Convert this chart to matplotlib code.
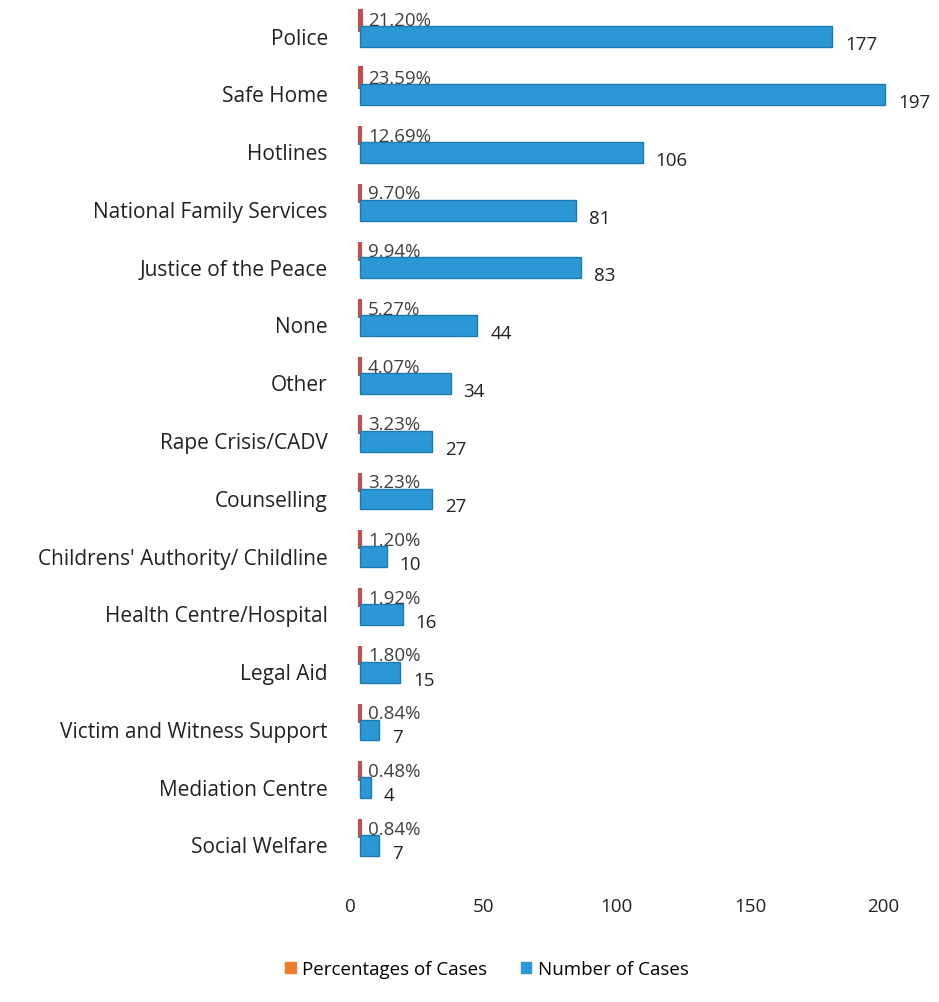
import matplotlib.pyplot as plt
import matplotlib.transforms as mtransforms
from matplotlib.patches import Patch
import numpy as np

categories = ['Police', 'Safe Home', 'Hotlines', 'National Family Services',
              'Justice of the Peace', 'None', 'Other', 'Rape Crisis/CADV',
              'Counselling', "Childrens' Authority/ Childline",
              'Health Centre/Hospital', 'Legal Aid', 'Victim and Witness Support',
              'Mediation Centre', 'Social Welfare']
numCases = [177, 197, 106, 81, 83, 44, 34, 27, 27, 10, 16, 15, 7, 4, 7]
pctCases = [21.20, 23.59, 12.69, 9.70, 9.94, 5.27, 4.07, 3.23, 3.23,
            1.20, 1.92, 1.80, 0.84, 0.48, 0.84]
pctLabels = ['21.20%', '23.59%', '12.69%', '9.70%', '9.94%', '5.27%', '4.07%',
             '3.23%', '3.23%', '1.20%', '1.92%', '1.80%', '0.84%', '0.48%', '0.84%']

plt.rcParams['font.family'] = ['Open Sans', 'DejaVu Sans']

blue = '#2b98d5'
orange = '#ed7d31'
fs = 13.5

fig = plt.figure(figsize=(9.39, 10.03), dpi=100)
W, H = 939, 1003
ax = fig.add_axes([350 / W, 1 - 880 / H, 560 / W, 878 / H])

# 3D depth of the original chart: bars drawn shifted ~10px to the right
shift = mtransforms.ScaledTranslation(10 / 100, 0, fig.dpi_scale_trans)
barTrans = ax.transData + shift

y = np.arange(len(categories))
# percentages are stored as fractions in the source sheet -> tiny bars
pctFrac = [p / 100 for p in pctCases]
ob = ax.barh(y - 0.27, pctFrac, height=0.33, color=orange, edgecolor='#c0504d',
             linewidth=3)
bb = ax.barh(y + 0.02, numCases, height=0.36, color=blue, edgecolor='#1c7ab3',
             linewidth=1.0)
for p in list(ob) + list(bb):
    p.set_transform(barTrans)

pctTrans = ax.transData + mtransforms.ScaledTranslation(18 / 100, 0, fig.dpi_scale_trans)
numTrans = ax.transData + mtransforms.ScaledTranslation(23 / 100, 0, fig.dpi_scale_trans)
for i in range(len(categories)):
    ax.text(0, y[i] - 0.27, pctLabels[i], fontsize=fs, color='#404040',
            va='center', ha='left', transform=pctTrans)
    ax.text(numCases[i], y[i] + 0.15, str(numCases[i]), fontsize=fs,
            color='#222222', va='center', ha='left', transform=numTrans)

ax.set_xlim(0, 210)
ax.set_ylim(14.6, -0.6)
ax.set_yticks(y)
ax.set_yticklabels(categories, fontsize=15, color='#222222')
ax.set_xticks([0, 50, 100, 150, 200])
ax.tick_params(axis='x', labelsize=fs, pad=13, length=0, labelcolor='#222222')
ax.tick_params(axis='y', length=0, pad=16)
for s in ax.spines.values():
    s.set_visible(False)

handles = [Patch(color=orange, label='Percentages of Cases'),
           Patch(color=blue, label='Number of Cases')]
fig.legend(handles=handles, loc='center', bbox_to_anchor=(487 / W, 1 - 970 / H),
           ncol=2, frameon=False, fontsize=fs, handlelength=0.55, handleheight=0.55,
           handletextpad=0.35, columnspacing=1.8)

fig.savefig('out.png', dpi=100)
